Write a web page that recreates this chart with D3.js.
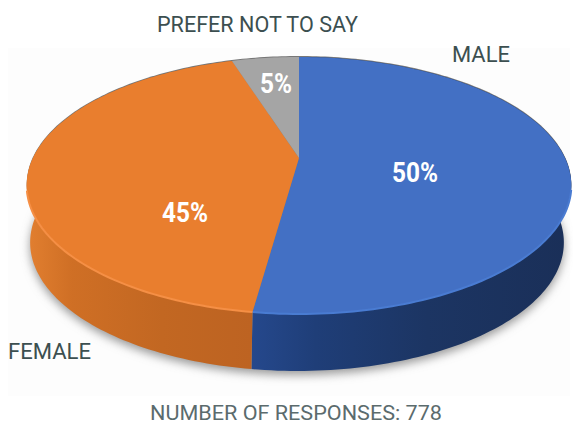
<!DOCTYPE html>
<html>
<head>
<meta charset="utf-8">
<script src="https://cdn.jsdelivr.net/npm/d3@7"></script>
<style>
html, body { margin: 0; padding: 0; background: #fff; }
svg { display: block; }
</style>
</head>
<body>
<div id="chart"></div>
<script>
var categories = ['MALE', 'FEMALE', 'PREFER NOT TO SAY'];
var labels = ['50%', '45%', '5%'];
// slice sizes, they differ a bit from the printed labels
var drawnShares = [52.2, 42.9, 4.9];
var topColors = ['#4370c4', '#e97e2e', '#a5a5a5'];
var rimColors = ['#4a7bd2', '#f58f45', '#a5a5a5'];
var footer = 'NUMBER OF RESPONSES: 778';

var width = 573, height = 425;
var depth = 57;
var k = 0.214;
var bottomShrink = 0.98;
var bottomShift = -2;

var svg = d3.select('#chart').append('svg')
    .attr('width', width)
    .attr('height', height);

var x = d3.scaleLinear().domain([-1, 1]).range([299 - 266, 299 + 266]);
var y = d3.scaleLinear().domain([-1, 1]).range([158 + 122.6, 158 - 122.6]);

// circle in the pie plane -> picture, with perspective
function project(a) {
    var u = Math.sin(a), v = Math.cos(a), w = 1 + k * v;
    return [x(u / w), y(v / w)];
}

function arcPoints(a0, a1) {
    var n = Math.max(2, Math.ceil((a1 - a0) / 0.02));
    return d3.range(n + 1).map(function (i) {
        return project(a0 + (a1 - a0) * i / n);
    });
}

function lowerPoint(p) {
    return [x(0) + bottomShift + (p[0] - x(0)) * bottomShrink, p[1] + depth];
}

var line = d3.line();
var slices = d3.pie().sort(null)(drawnShares);
var defs = svg.append('defs');

var blur = defs.append('filter').attr('id', 'soft')
    .attr('x', '-10%').attr('y', '-10%').attr('width', '120%').attr('height', '120%');
blur.append('feGaussianBlur').attr('stdDeviation', 5);

var blur2 = defs.append('filter').attr('id', 'soft2')
    .attr('x', '-10%').attr('y', '-10%').attr('width', '120%').attr('height', '120%');
blur2.append('feGaussianBlur').attr('stdDeviation', 0.7);

function wallGradient(id, stops, x1, x2) {
    var g = defs.append('linearGradient').attr('id', id)
        .attr('gradientUnits', 'userSpaceOnUse')
        .attr('x1', x1).attr('x2', x2).attr('y1', 0).attr('y2', 0);
    stops.forEach(function (s) {
        g.append('stop').attr('offset', s[0]).attr('stop-color', s[1]);
    });
}
wallGradient('wall0', [[0, '#25488c'], [0.2, '#1f3e78'], [0.55, '#1c3563'], [1, '#1a2f58']], 252, 570);
wallGradient('wall1', [[0, '#e27f30'], [0.2, '#cf6f25'], [0.6, '#c26722'], [1, '#bd6322']], 27, 252);
wallGradient('wall2', [[0, '#8a8a8a'], [1, '#8a8a8a']], 233, 298);

svg.append('rect')
    .attr('x', 8).attr('y', 48)
    .attr('width', 562).attr('height', 348)
    .attr('fill', '#fdfdfd');

var whole = arcPoints(0, 2 * Math.PI);

// shadow under the pie
svg.append('path')
    .attr('d', line(whole.map(function (p) { var q = lowerPoint(p); return [q[0], q[1] + 4]; })) + 'Z')
    .attr('fill', '#999')
    .attr('filter', 'url(#soft)');
svg.append('path')
    .attr('d', line(whole.map(function (p) { return [p[0], p[1] - 1]; })) + 'Z')
    .attr('fill', '#777')
    .attr('filter', 'url(#soft2)');

// side walls first, the top faces cover their back part
slices.forEach(function (d, i) {
    var pts = arcPoints(d.startAngle, d.endAngle);
    var lower = pts.slice().reverse().map(lowerPoint);
    svg.append('path')
        .attr('d', line(pts.concat(lower)) + 'Z')
        .attr('fill', 'url(#wall' + i + ')');
});

slices.forEach(function (d, i) {
    var pts = arcPoints(d.startAngle, d.endAngle);
    svg.append('path')
        .attr('d', line([[x(0), y(0)]].concat(pts)) + 'Z')
        .attr('fill', topColors[i]);
});

// light rim only on the near edge, where the face meets the wall
slices.forEach(function (d, i) {
    var pts = arcPoints(d.startAngle, d.endAngle).filter(function (p) { return p[1] > y(0) + 30; });
    svg.append('path')
        .attr('d', line(pts))
        .attr('fill', 'none')
        .attr('stroke', rimColors[i])
        .attr('stroke-width', 2)
        .attr('filter', 'url(#soft2)');
});

var labelPos = [[415, 182, 46], [185, 222, 46], [276, 93, 32]];
svg.selectAll('.pct')
    .data(labels)
    .enter()
    .append('text')
    .attr('class', 'pct')
    .attr('x', function (d, i) { return labelPos[i][0] - labelPos[i][2] / 2; })
    .attr('y', function (d, i) { return labelPos[i][1]; })
    .attr('textLength', function (d, i) { return labelPos[i][2]; })
    .attr('lengthAdjust', 'spacingAndGlyphs')
    .attr('font-family', 'Roboto, sans-serif')
    .attr('font-weight', 700)
    .attr('font-size', 28)
    .attr('fill', '#fff')
    .text(function (d) { return d; });

var namePos = [[452, 62, 58], [8, 359, 83], [157, 32, 201]];
svg.selectAll('.name')
    .data(categories)
    .enter()
    .append('text')
    .attr('class', 'name')
    .attr('x', function (d, i) { return namePos[i][0]; })
    .attr('y', function (d, i) { return namePos[i][1]; })
    .attr('textLength', function (d, i) { return namePos[i][2]; })
    .attr('lengthAdjust', 'spacingAndGlyphs')
    .attr('font-family', 'Roboto, sans-serif')
    .attr('font-size', 22)
    .attr('fill', '#3c4f50')
    .text(function (d) { return d; });

svg.append('text')
    .attr('x', 150)
    .attr('y', 420)
    .attr('textLength', 292)
    .attr('lengthAdjust', 'spacingAndGlyphs')
    .attr('font-family', 'Roboto, sans-serif')
    .attr('font-size', 20)
    .attr('fill', '#5b6b6d')
    .text(footer);
</script>
</body>
</html>
